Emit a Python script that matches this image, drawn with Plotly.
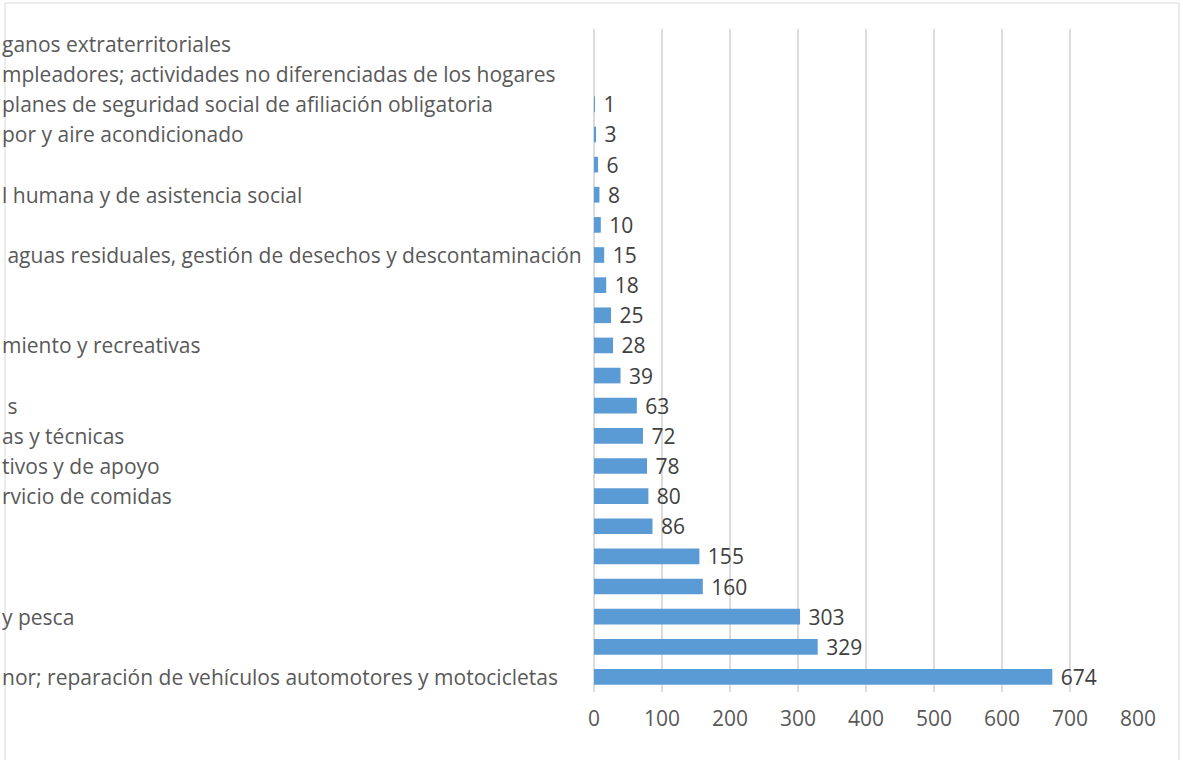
import plotly.graph_objects as go

# Visible (cropped) category labels, top to bottom; '' where the label is cropped away entirely
labels = [
    "ganos extraterritoriales",
    "mpleadores; actividades no diferenciadas de los hogares",
    "planes de seguridad social de afiliación obligatoria",
    "por y aire acondicionado",
    "",
    "l humana y de asistencia social",
    "",
    "\u00a0aguas residuales, gestión de desechos y descontaminación",
    "",
    "",
    "miento y recreativas",
    "",
    "\u00a0s",
    "as y técnicas",
    "tivos y de apoyo",
    "rvicio de comidas",
    "",
    "",
    "",
    "y pesca",
    "",
    "nor; reparación de vehículos automotores y motocicletas",
]
values = [None, None, 1, 3, 6, 8, 10, 15, 18, 25, 28, 39, 63, 72, 78, 80, 86, 155, 160, 303, 329, 674]
x_ticks = [0, 100, 200, 300, 400, 500, 600, 700, 800]

rows = list(range(len(labels)))

W, H = 1183, 760
L, R, T, B = 594, 45, 29, 68
pw = W - L - R
ph = H - T - B

def px_to_paper_x(px):
    return (px - L) / pw

def px_to_paper_y(py):
    return (H - B - py) / ph

FONT = "Open Sans"
FS = 21

fig = go.Figure()
fig.add_trace(go.Bar(
    x=values, y=rows, orientation="h",
    marker=dict(color="#5B9BD5", line=dict(width=0)),
    width=0.52,
    text=[("" if v is None else "\u00a0" + str(v)) for v in values],
    textposition="outside",
    constraintext="none",
    textfont=dict(family=FONT, size=FS, color="#404040"),
    cliponaxis=False,
    hoverinfo="skip",
))

for r, lab in zip(rows, labels):
    if lab:
        fig.add_annotation(
            x=px_to_paper_x(0), xref="paper", xanchor="left",
            y=r, yref="y", yanchor="middle",
            text=lab, showarrow=False,
            font=dict(family=FONT, size=FS, color="#595959"),
        )

fig.add_shape(
    type="rect", xref="paper", yref="paper",
    x0=px_to_paper_x(5), x1=px_to_paper_x(1179),
    y0=px_to_paper_y(775), y1=px_to_paper_y(3),
    line=dict(color="#d9d9d9", width=1), fillcolor="rgba(0,0,0,0)", layer="below",
)

fig.update_layout(
    width=W, height=H,
    margin=dict(l=L, r=R, t=T, b=B, autoexpand=False),
    paper_bgcolor="white", plot_bgcolor="white",
    showlegend=False,
    xaxis=dict(
        range=[0, 800], tickvals=x_ticks,
        showgrid=True, gridcolor="#dcdcdc", gridwidth=1.5,
        zeroline=True, zerolinecolor="#dcdcdc", zerolinewidth=1.5,
        showline=False, ticks="",
        tickfont=dict(family=FONT, size=FS, color="#595959"),
        ticklabelstandoff=12,
        fixedrange=True,
    ),
    yaxis=dict(
        range=[len(labels) - 0.5, -0.5],
        showticklabels=False, showgrid=False, zeroline=False, ticks="",
        fixedrange=True,
    ),
)

fig.write_html(
    "out.html",
    config={"displayModeBar": False},
    post_script="document.body.style.margin='0';",
)
